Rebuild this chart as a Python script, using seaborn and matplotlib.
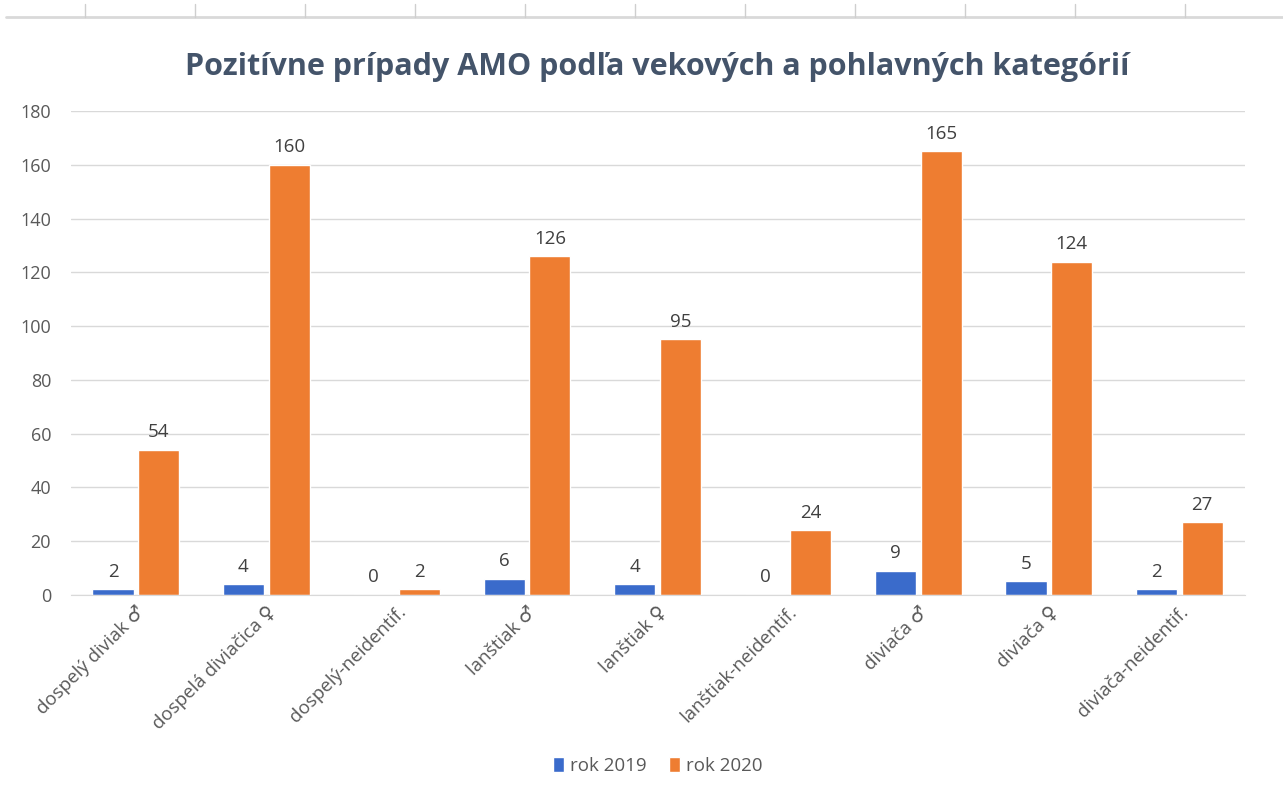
import seaborn as sns
import matplotlib.pyplot as plt
import pandas as pd

categories = ['dospelý diviak ♂', 'dospelá diviačica ♀', 'dospelý-neidentif.',
              'lanštiak ♂', 'lanštiak ♀', 'lanštiak-neidentif.',
              'diviača ♂', 'diviača ♀', 'diviača-neidentif.']
rok_2019 = [2, 4, 0, 6, 4, 0, 9, 5, 2]
rok_2020 = [54, 160, 2, 126, 95, 24, 165, 124, 27]
series = ['rok 2019', 'rok 2020']

df = pd.DataFrame({
    'kategoria': categories * 2,
    'pocet': rok_2019 + rok_2020,
    'rok': [series[0]] * len(categories) + [series[1]] * len(categories),
})

sns.set_style('white')
plt.rcParams['font.family'] = ['Open Sans', 'DejaVu Sans']

fig = plt.figure(figsize=(12.83, 7.93), dpi=100)
ax = fig.add_axes([0.055, 0.25, 0.915, 0.61])

palette = {'rok 2019': '#3A6BCB', 'rok 2020': '#EE7D31'}
sns.barplot(data=df, x='kategoria', y='pocet', hue='rok', palette=palette,
            width=0.7, gap=0.1, ax=ax, saturation=1)

# data labels
for cont in ax.containers:
    ax.bar_label(cont, padding=6, fontsize=13.5, color='#404040')

ax.set_ylim(0, 180)
ax.set_yticks(range(0, 181, 20))
ax.yaxis.grid(True, color='#D9D9D9', linewidth=1)
ax.set_axisbelow(True)
for s in ['top', 'right', 'left']:
    ax.spines[s].set_visible(False)
ax.spines['bottom'].set_color('#D9D9D9')
ax.tick_params(axis='y', length=0, labelsize=13, labelcolor='#595959', pad=14)
ax.tick_params(axis='x', length=0, labelsize=13.5, labelcolor='#595959', pad=6)
ax.set_xlabel('')
ax.set_ylabel('')
plt.setp(ax.get_xticklabels(), rotation=45, ha='right', rotation_mode='anchor')

ax.set_title('Pozitívne prípady AMO podľa vekových a pohlavných kategórií',
             fontsize=22, fontweight='bold', color='#44546A', pad=26)

ax.legend(loc='upper center', bbox_to_anchor=(0.5, -0.3), ncol=2, frameon=False,
          fontsize=13.5, handlelength=0.6, handleheight=0.9, columnspacing=1.2,
          handletextpad=0.3, labelcolor='#595959')

# spreadsheet header strip at the top
fig.add_artist(plt.Line2D([0.005, 1.0], [0.978, 0.978], color='#D9D9D9', lw=2))
for xp in range(85, 1283, 110):
    fig.add_artist(plt.Line2D([xp / 1283, xp / 1283], [0.978, 0.995], color='#CFCFCF', lw=1))

fig.savefig('out.png', dpi=100, facecolor='white')
